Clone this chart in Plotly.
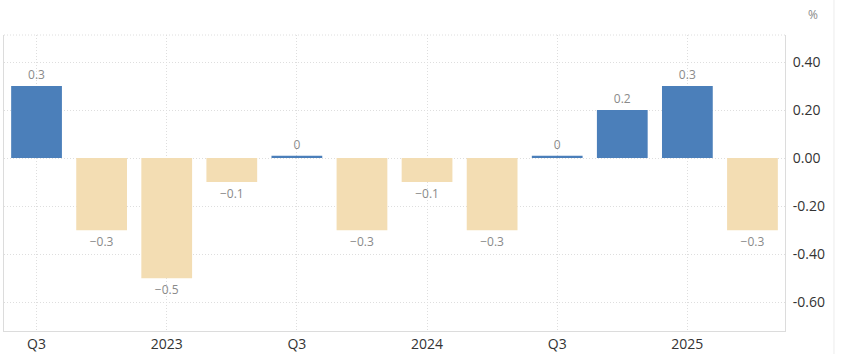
import plotly.graph_objects as go

quarters = ["2022 Q3", "2022 Q4", "2023 Q1", "2023 Q2", "2023 Q3", "2023 Q4",
            "2024 Q1", "2024 Q2", "2024 Q3", "2024 Q4", "2025 Q1", "2025 Q2"]
values = [0.3, -0.3, -0.5, -0.1, 0.01, -0.3, -0.1, -0.3, 0.01, 0.2, 0.3, -0.3]
tick_positions = ["2022 Q3", "2023 Q1", "2023 Q3", "2024 Q1", "2024 Q3", "2025 Q1"]
tick_labels = ["Q3", "2023", "Q3", "2024", "Q3", "2025"]
y_ticks = [0.4, 0.2, 0.0, -0.2, -0.4, -0.6]

BLUE = "#4b7fba"
TAN = "#f3ddb3"

colors = [BLUE if v >= 0 else TAN for v in values]
texts = [format(round(v, 1), "g").replace("-", "\u2212") for v in values]

fig = go.Figure(go.Bar(
    x=quarters, y=values, marker=dict(color=colors, line=dict(width=0)),
    text=texts, textposition="outside", cliponaxis=False,
    textfont=dict(family="Open Sans, sans-serif", size=12, color="#8a8a8a"),
    hoverinfo="skip",
))

fig.update_layout(
    width=841, height=354,
    margin=dict(l=4, r=56, t=35, b=23, autoexpand=False),
    paper_bgcolor="white", plot_bgcolor="white",
    bargap=0.22, showlegend=False,
    font=dict(family="Open Sans, sans-serif"),
)
fig.update_xaxes(
    type="category", categoryorder="array", categoryarray=quarters,
    range=[-0.5, 11.5], automargin=False,
    tickmode="array", tickvals=tick_positions, ticktext=tick_labels,
    tickfont=dict(size=14, color="#333333"),
    showgrid=True, gridcolor="#dedede", griddash="1px,2px", gridwidth=1,
    showline=True, linecolor="#dcdcdc", linewidth=1,
    ticks="", ticklabelstandoff=0,
)
fig.update_yaxes(
    side="right", range=[-0.72, 0.5125], automargin=False,
    tickmode="array", tickvals=y_ticks,
    ticktext=[f"{t:.2f}" for t in y_ticks],
    tickfont=dict(size=14, color="#333333"),
    showgrid=True, gridcolor="#dedede", griddash="1px,2px", gridwidth=1,
    zeroline=False,
    showline=True, linecolor="#dcdcdc", linewidth=1, mirror=True,
    ticks="", ticklabelstandoff=4,
)
fig.add_shape(type="line", xref="paper", yref="paper", x0=0, x1=1, y0=1, y1=1,
              line=dict(color="#dedede", width=1, dash="1px,2px"))
fig.add_shape(type="line", xref="paper", yref="paper", x0=1.0627, x1=1.0627, y0=-0.08, y1=1.12,
              line=dict(color="#ececec", width=1))
fig.add_annotation(text="%", xref="paper", yref="paper", x=1.036, y=1.068,
                   xanchor="center", yanchor="middle", showarrow=False,
                   font=dict(size=12, color="#8a8a8a"))

fig.write_html("out.html")
